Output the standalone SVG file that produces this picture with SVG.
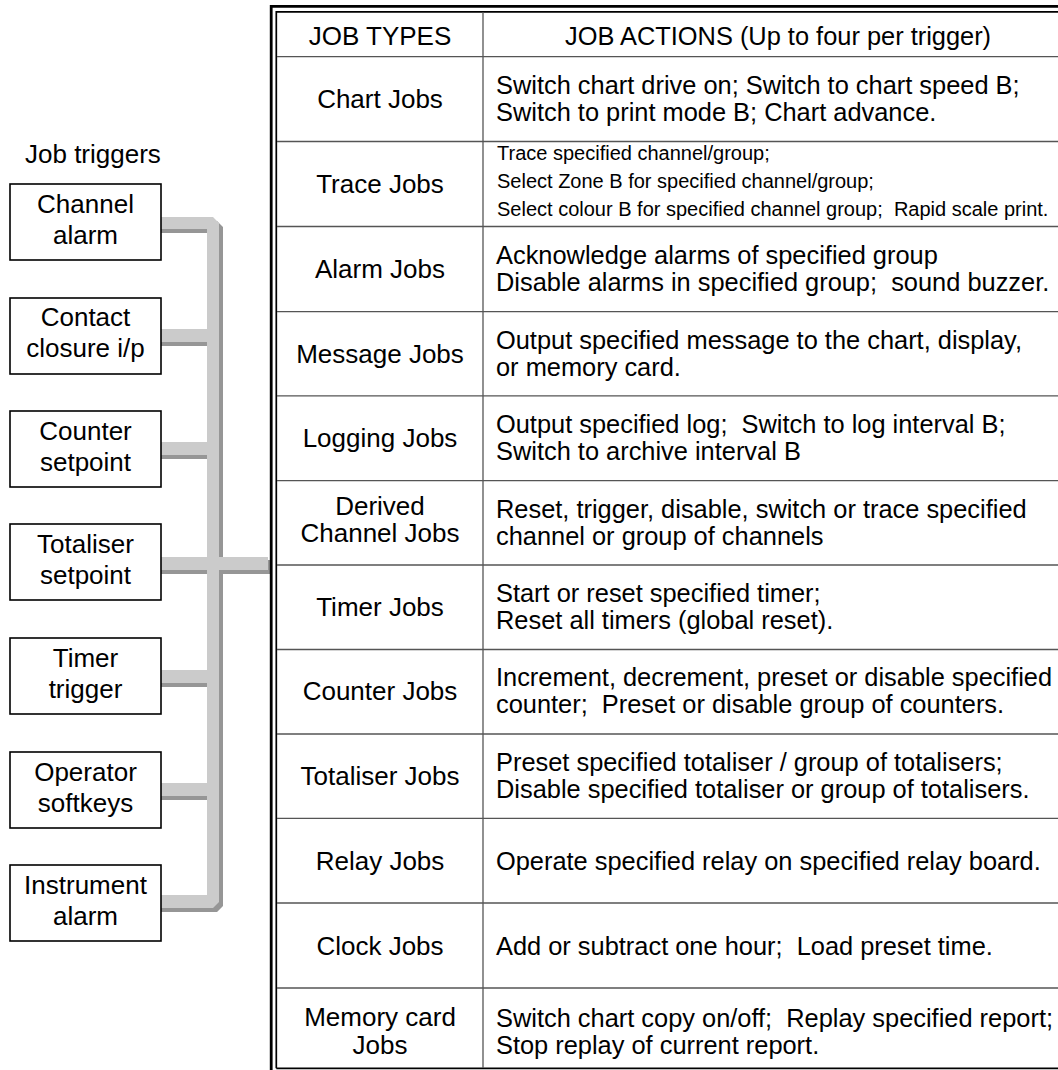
<svg xmlns="http://www.w3.org/2000/svg" width="1058" height="1070" viewBox="0 0 1058 1070">
<style>
text{font-family:"Liberation Sans",Arial,sans-serif;fill:#000;white-space:pre}
.t{font-size:26px}
.a{font-size:25.4px}
.s{font-size:20px}
.c{text-anchor:middle}
.box{fill:#fff;stroke:#000;stroke-width:1.6}
.lt{fill:#cbcbcb}
.dk{fill:#969696}
.rule{stroke:#555;stroke-width:1.3;fill:none}
</style>
<rect width="1058" height="1070" fill="#fff"/>

<text class="t" x="25" y="163">Job triggers</text>

<g id="connectors">
  <path class="dk" d="M161,221 H217 L223,227 V906 L217,912 H161 V899 H211 V233 H161 Z"/>
  <path class="lt" d="M161,217 H213 L219,223 V902 L213,908 H161 V895 H207 V229 H161 Z"/>
  <rect class="dk" x="161" y="342" width="46" height="4"/>
  <rect class="lt" x="161" y="329" width="46" height="13"/>
  <rect class="dk" x="161" y="455" width="46" height="4"/>
  <rect class="lt" x="161" y="442" width="46" height="13"/>
  <rect class="dk" x="161" y="570" width="46" height="4"/>
  <rect class="lt" x="161" y="557" width="46" height="13"/>
  <rect class="dk" x="161" y="683" width="46" height="4"/>
  <rect class="lt" x="161" y="670" width="46" height="13"/>
  <rect class="dk" x="161" y="796" width="46" height="4"/>
  <rect class="lt" x="161" y="783" width="46" height="13"/>
  <rect class="dk" x="219" y="570" width="49" height="4"/>
  <rect class="lt" x="219" y="557" width="49" height="13"/>
  <rect class="dk" x="268" y="560" width="4" height="14"/>
</g>

<g id="trigger-channel-alarm"><rect class="box" x="10" y="184" width="151" height="76"/><text class="t c" x="85.5" y="213">Channel</text><text class="t c" x="85.5" y="244">alarm</text></g>
<g id="trigger-contact-closure"><rect class="box" x="10" y="298" width="151" height="76"/><text class="t c" x="85.5" y="326">Contact</text><text class="t c" x="85.5" y="357">closure i/p</text></g>
<g id="trigger-counter-setpoint"><rect class="box" x="10" y="411" width="151" height="76"/><text class="t c" x="85.5" y="440">Counter</text><text class="t c" x="85.5" y="471">setpoint</text></g>
<g id="trigger-totaliser-setpoint"><rect class="box" x="10" y="524" width="151" height="76"/><text class="t c" x="85.5" y="553">Totaliser</text><text class="t c" x="85.5" y="584">setpoint</text></g>
<g id="trigger-timer"><rect class="box" x="10" y="638" width="151" height="76"/><text class="t c" x="85.5" y="667">Timer</text><text class="t c" x="85.5" y="698">trigger</text></g>
<g id="trigger-operator-softkeys"><rect class="box" x="10" y="752" width="151" height="76"/><text class="t c" x="85.5" y="781">Operator</text><text class="t c" x="85.5" y="812">softkeys</text></g>
<g id="trigger-instrument-alarm"><rect class="box" x="10" y="865" width="151" height="76"/><text class="t c" x="85.5" y="894">Instrument</text><text class="t c" x="85.5" y="925">alarm</text></g>

<g id="job-table">
  <path d="M271.2,1072 V6.4 H1062" fill="none" stroke="#000" stroke-width="2.8"/>
  <path d="M276.3,1068.3 V11.9 H1062 M276.3,1068.3 H1062" fill="none" stroke="#000" stroke-width="1.7"/>
  <line class="rule" x1="483" y1="12" x2="483" y2="1068"/>
  <path class="rule" d="M277,56.7 H1062 M277,141.5 H1062 M277,226.5 H1062 M277,311.7 H1062 M277,395.8 H1062 M277,480.7 H1062 M277,565 H1062 M277,649.5 H1062 M277,734 H1062 M277,818.3 H1062 M277,903 H1062 M277,988 H1062"/>

  <g id="header"><text class="t c" x="380" y="45">JOB TYPES</text><text class="a c" x="778" y="45">JOB ACTIONS (Up to four per trigger)</text></g>
  <g id="row-chart"><text class="t c" x="380" y="108">Chart Jobs</text><text class="a" x="496" y="94">Switch chart drive on; Switch to chart speed B;</text><text class="a" x="496" y="121">Switch to print mode B; Chart advance.</text></g>
  <g id="row-trace"><text class="t c" x="380" y="193">Trace Jobs</text><text class="s" x="497" y="160">Trace specified channel/group;</text><text class="s" x="497" y="188">Select Zone B for specified channel/group;</text><text class="s" x="497" y="216">Select colour B for specified channel group;  Rapid scale print.</text></g>
  <g id="row-alarm"><text class="t c" x="380" y="278">Alarm Jobs</text><text class="a" x="496" y="264">Acknowledge alarms of specified group</text><text class="a" x="496" y="291">Disable alarms in specified group;  sound buzzer.</text></g>
  <g id="row-message"><text class="t c" x="380" y="363">Message Jobs</text><text class="a" x="496" y="349">Output specified message to the chart, display,</text><text class="a" x="496" y="376">or memory card.</text></g>
  <g id="row-logging"><text class="t c" x="380" y="447">Logging Jobs</text><text class="a" x="496" y="433">Output specified log;  Switch to log interval B;</text><text class="a" x="496" y="460">Switch to archive interval B</text></g>
  <g id="row-derived"><text class="t c" x="380" y="515">Derived</text><text class="t c" x="380" y="542">Channel Jobs</text><text class="a" x="496" y="518">Reset, trigger, disable, switch or trace specified</text><text class="a" x="496" y="545">channel or group of channels</text></g>
  <g id="row-timer"><text class="t c" x="380" y="616">Timer Jobs</text><text class="a" x="496" y="602">Start or reset specified timer;</text><text class="a" x="496" y="629">Reset all timers (global reset).</text></g>
  <g id="row-counter"><text class="t c" x="380" y="700">Counter Jobs</text><text class="a" x="496" y="686">Increment, decrement, preset or disable specified</text><text class="a" x="496" y="713">counter;  Preset or disable group of counters.</text></g>
  <g id="row-totaliser"><text class="t c" x="380" y="785">Totaliser Jobs</text><text class="a" x="496" y="771">Preset specified totaliser / group of totalisers;</text><text class="a" x="496" y="798">Disable specified totaliser or group of totalisers.</text></g>
  <g id="row-relay"><text class="t c" x="380" y="870">Relay Jobs</text><text class="a" x="496" y="870">Operate specified relay on specified relay board.</text></g>
  <g id="row-clock"><text class="t c" x="380" y="955">Clock Jobs</text><text class="a" x="496" y="955">Add or subtract one hour;  Load preset time.</text></g>
  <g id="row-memory"><text class="t c" x="380" y="1026">Memory card</text><text class="t c" x="380" y="1054">Jobs</text><text class="a" x="496" y="1027">Switch chart copy on/off;  Replay specified report;</text><text class="a" x="496" y="1054">Stop replay of current report.</text></g>
</g>
</svg>
